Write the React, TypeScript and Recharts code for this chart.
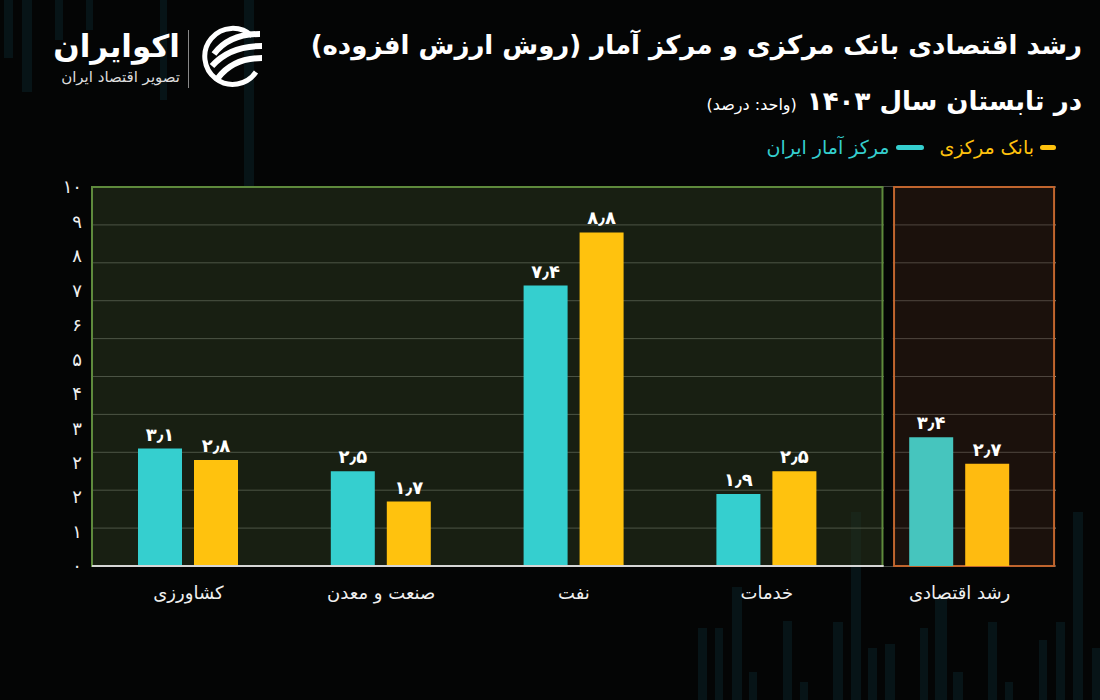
import React from 'react';
import {
  BarChart,
  Bar,
  Cell,
  XAxis,
  YAxis,
  CartesianGrid,
  ReferenceArea,
  ReferenceLine,
  LabelList,
} from 'recharts';

const categories = ['کشاورزی', 'صنعت و معدن', 'نفت', 'خدمات', 'رشد اقتصادی'];
const markazAmar = [3.1, 2.5, 7.4, 1.9, 3.4];
const bankMarkazi = [2.8, 1.7, 8.8, 2.5, 2.7];
const valueTicks = [0, 1, 2, 3, 4, 5, 6, 7, 8, 9, 10];
// labels as printed on the original (the "۲" is repeated there)
const yTickLabels = ['۰', '۱', '۲', '۲', '۳', '۴', '۵', '۶', '۷', '۸', '۹', '۱۰'];

const CYAN = '#35cfcf';
const GOLD = '#ffc20e';
const cyanShades = [CYAN, CYAN, CYAN, CYAN, '#46c5be'];
const goldShades = [GOLD, GOLD, GOLD, GOLD, '#ffbb10'];
const FONT = '"DejaVu Sans", sans-serif';

const data = categories.map((name, i) => ({
  name,
  idx: i,
  markaz: markazAmar[i],
  bank: bankMarkazi[i],
}));

const toFa = (v: number) =>
  v
    .toFixed(1)
    .replace('.', '٫')
    .replace(/\d/g, (d) => '۰۱۲۳۴۵۶۷۸۹'[Number(d)]);

// faint decorative columns in the background [x, top, bottom, width]
const decoColumns: [number, number, number, number][] = [
  [4, 0, 58, 9], [22, 0, 92, 10], [55, 0, 40, 8], [86, 0, 30, 7], [160, 0, 100, 7], [244, 0, 186, 10],
  [698, 628, 700, 9], [715, 628, 700, 8], [732, 587, 700, 10], [749, 672, 700, 8], [783, 621, 700, 9],
  [800, 682, 700, 8], [833, 622, 700, 10], [851, 512, 700, 10], [868, 648, 700, 9], [885, 644, 700, 10],
  [920, 628, 700, 8], [935, 597, 700, 12], [953, 672, 700, 10], [988, 622, 700, 9], [1005, 682, 700, 8],
  [1039, 640, 700, 8], [1056, 622, 700, 9], [1073, 512, 700, 10], [1092, 648, 700, 8],
];

function Decoration() {
  return (
    <svg style={{ position: 'absolute', left: 0, top: 0 }} width={1100} height={700}>
      {decoColumns.map(([x, y0, y1, w], i) => (
        <rect key={i} x={x} y={y0} width={w} height={y1 - y0} fill="#0d2a31" opacity={0.4} />
      ))}
    </svg>
  );
}

function Logo() {
  return (
    <div style={{ position: 'absolute', left: 40, top: 24, width: 230, height: 70 }}>
      <div
        dir="rtl"
        style={{
          position: 'absolute',
          right: 90,
          top: 4,
          color: '#fff',
          fontSize: 31,
          fontWeight: 'bold',
          whiteSpace: 'nowrap',
        }}
      >
        اکوایران
      </div>
      <div
        dir="rtl"
        style={{
          position: 'absolute',
          right: 90,
          top: 44,
          color: '#ddd',
          fontSize: 15,
          letterSpacing: 1,
          whiteSpace: 'nowrap',
        }}
      >
        تصویر اقتصاد ایران
      </div>
      <div style={{ position: 'absolute', left: 148, top: 6, width: 1, height: 58, background: '#888' }} />
      <svg style={{ position: 'absolute', left: 160, top: 0 }} width={64} height={66} viewBox="0 0 64 66">
        <path d="M52 12 A28 28 0 1 0 56 48" fill="none" stroke="#fff" strokeWidth={5} />
        <path d="M14 30 C26 14 44 10 60 10" fill="none" stroke="#fff" strokeWidth={6} />
        <path d="M12 42 C26 26 44 22 62 22" fill="none" stroke="#fff" strokeWidth={6} />
        <path d="M18 54 C30 38 46 34 62 34" fill="none" stroke="#fff" strokeWidth={6} />
      </svg>
    </div>
  );
}

function Header() {
  return (
    <div dir="rtl" style={{ position: 'absolute', right: 18, top: 30, color: '#fff', textAlign: 'right' }}>
      <div style={{ fontSize: 26, fontWeight: 'bold', whiteSpace: 'nowrap' }}>
        رشد اقتصادی بانک مرکزی و مرکز آمار (روش ارزش افزوده)
      </div>
      <div style={{ marginTop: 26, whiteSpace: 'nowrap', display: 'flex', alignItems: 'baseline', gap: 10 }}>
        <span style={{ fontSize: 26, fontWeight: 'bold' }}>در تابستان سال ۱۴۰۳</span>
        <span style={{ fontSize: 16 }}>(واحد: درصد)</span>
      </div>
      <div
        style={{
          marginTop: 20,
          marginRight: 26,
          display: 'flex',
          alignItems: 'center',
          gap: 6,
          fontSize: 19,
          whiteSpace: 'nowrap',
        }}
      >
        <span style={{ width: 16, height: 5, borderRadius: 3, background: GOLD }} />
        <span style={{ color: GOLD }}>بانک مرکزی</span>
        <span style={{ width: 28, height: 5, borderRadius: 3, background: CYAN, marginRight: 10 }} />
        <span style={{ color: CYAN }}>مرکز آمار ایران</span>
      </div>
    </div>
  );
}

export default function App() {
  return (
    <div
      style={{
        position: 'absolute',
        left: 0,
        top: 0,
        width: 1100,
        height: 700,
        background: '#040505',
        overflow: 'hidden',
        fontFamily: FONT,
      }}
    >
      <Decoration />
      <div style={{ position: 'absolute', left: 0, top: 0 }}>
        <BarChart
          width={1100}
          height={700}
          data={data}
          margin={{ top: 187, right: 44, bottom: 94, left: 32 }}
          barSize={44}
          barGap={12}
        >
          <XAxis
            dataKey="name"
            axisLine={false}
            tickLine={false}
            tickMargin={14}
            height={40}
            tick={{ fill: '#f0f0f0', fontSize: 18, fontFamily: FONT }}
          />
          <XAxis
            xAxisId="panel"
            dataKey="idx"
            type="number"
            domain={[0, 5]}
            allowDataOverflow
            hide
          />
          <YAxis yAxisId="v" domain={[0, 10]} ticks={valueTicks} hide />
          <YAxis
            yAxisId="labels"
            dataKey="markaz"
            type="number"
            domain={[0, yTickLabels.length - 1]}
            allowDataOverflow
            ticks={yTickLabels.map((_, i) => i)}
            interval={0}
            tickFormatter={(i: number) => yTickLabels[i]}
            axisLine={false}
            tickLine={false}
            tickMargin={4}
            width={60}
            tick={{ fill: '#f0f0f0', fontSize: 18, fontFamily: FONT }}
          />
          <CartesianGrid
            yAxisId="v"
            vertical={false}
            horizontalValues={valueTicks}
            stroke="#8a8d86"
            strokeWidth={1}
          />
          <ReferenceArea
            xAxisId="panel"
            yAxisId="v"
            x1={4.106}
            x2={4.154}
            y1={0}
            y2={10}
            fill="#040505"
            fillOpacity={1}
            stroke="none"
          />
          <ReferenceArea
            xAxisId="panel"
            yAxisId="v"
            x1={0}
            x2={4.1}
            y1={0}
            y2={10}
            fill="#25311c"
            fillOpacity={0.62}
            stroke="#5e8a3c"
            strokeWidth={2}
            strokeOpacity={1}
          />
          <ReferenceArea
            xAxisId="panel"
            yAxisId="v"
            x1={4.16}
            x2={4.99}
            y1={0}
            y2={10}
            fill="#2a1a12"
            fillOpacity={0.62}
            stroke="#c0652e"
            strokeWidth={2}
            strokeOpacity={1}
          />
          <ReferenceLine
            xAxisId="panel"
            yAxisId="v"
            segment={[
              { x: 0, y: 0 },
              { x: 4.106, y: 0 },
            ]}
            stroke="#d6d6d6"
            strokeWidth={2}
          />
          <Bar yAxisId="v" dataKey="markaz" fill={CYAN} isAnimationActive={false}>
            {cyanShades.map((c, i) => (
              <Cell key={i} fill={c} />
            ))}
            <LabelList
              dataKey="markaz"
              position="top"
              offset={8}
              formatter={(v: number) => toFa(v)}
              style={{ fill: '#fff', fontSize: 18, fontWeight: 'bold', fontFamily: FONT }}
            />
          </Bar>
          <Bar yAxisId="v" dataKey="bank" fill={GOLD} isAnimationActive={false}>
            {goldShades.map((c, i) => (
              <Cell key={i} fill={c} />
            ))}
            <LabelList
              dataKey="bank"
              position="top"
              offset={8}
              formatter={(v: number) => toFa(v)}
              style={{ fill: '#fff', fontSize: 18, fontWeight: 'bold', fontFamily: FONT }}
            />
          </Bar>
        </BarChart>
      </div>
      <Logo />
      <Header />
    </div>
  );
}
